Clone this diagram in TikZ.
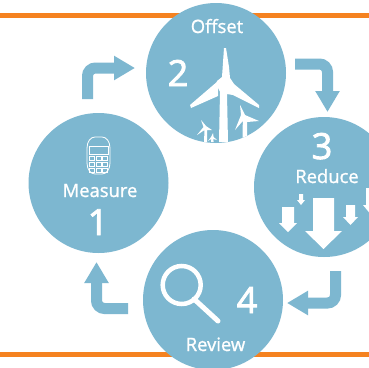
\documentclass[tikz,border=0pt]{standalone}
\usepackage{fontspec}
\setmainfont{Open Sans}
\newfontfamily\labelface{Open Sans}[FakeBold=1.2]
\newfontfamily\digitface{Open Sans}[FakeBold=2.4]
\usetikzlibrary{arrows.meta}
\definecolor{bluefill}{HTML}{7DB7D0}
\definecolor{orangeline}{HTML}{F58220}
\tikzset{
  stage/.style={circle,fill=bluefill,draw=none,minimum size=140pt,inner sep=0pt},
  stagelabel/.style={anchor=base,text=white,inner sep=0pt,font=\labelface\fontsize{18.4}{20}\selectfont},
  stagenum/.style={anchor=base,text=white,inner sep=0pt,font=\digitface\fontsize{36}{40}\selectfont},
  band/.style={draw=orangeline,line width=5pt},
  flow/.style={draw=bluefill,line width=11pt,rounded corners=8pt,-{Triangle[length=21pt,width=23pt]}},
  iconfill/.style={fill=white,draw=none},
  iconline/.style={draw=white,line width=0.8pt},
}
\begin{document}
\begin{tikzpicture}[x=1pt,y=-1pt]
\useasboundingbox (0,0) rectangle (369,367);
\clip (0,0) rectangle (369,367);
\fill[white] (0,0) rectangle (369,367);
\coordinate (tl) at (0,15); \coordinate (tr) at (369,15);
\coordinate (bl) at (0,354); \coordinate (br) at (369,354);
\draw[band] (tl) -- (tr);
\draw[band] (bl) -- (br);
% circles
\node[stage] (measure) at (98.5,183) {};
\node[stage] (offset) at (216,73) {};
\node[stage] (reduce) at (324,187) {};
\node[stage] (review) at (213,300) {};
% connectors
\coordinate (a1) at (87.5,99); \coordinate (a1c) at (87.5,68); \coordinate (a1e) at (135,68);
\coordinate (a2) at (295,64); \coordinate (a2c) at (327.5,64); \coordinate (a2e) at (327.5,112);
\coordinate (a3) at (335.5,271); \coordinate (a3c) at (335.5,303); \coordinate (a3e) at (287,303);
\coordinate (a4) at (128,308.5); \coordinate (a4c) at (96.5,308.5); \coordinate (a4e) at (96.5,262);
\draw[flow] (a1) -- (a1c) -- (a1e);
\draw[flow] (a2) -- (a2c) -- (a2e);
\draw[flow] (a3) -- (a3c) -- (a3e);
\draw[flow] (a4) -- (a4c) -- (a4e);
% labels
\node[stagelabel] (tmeasure) at (100,197) {Measure};
\node[stagenum] (nmeasure) at (98,235) {1};
\node[stagelabel] (toffset) at (217,33) {Offset};
\node[stagenum] (noffset) at (178,86) {2};
\node[stagelabel] (treduce) at (327,183) {Reduce};
\node[stagenum] (nreduce) at (322,159) {3};
\node[stagelabel] (treview) at (215.5,351) {Review};
\node[stagenum] (nreview) at (247,313) {4};
% calculator
\draw[iconline] (87,148) .. controls (87,141) and (91,137) .. (95,137) -- (102,137) .. controls (106,137) and (110,141) .. (110,148) -- (110,163) .. controls (110,170) and (106,174) .. (102,174) -- (95,174) .. controls (91,174) and (87,170) .. (87,163) -- cycle;
\draw[iconline] (89,146) rectangle (108,154);
\foreach \kx in {89.5,96,102.5}{
  \foreach \ky in {156,162,168}{
    \draw[iconline,line width=0.6pt] (\kx,\ky) rectangle ++(5,4);
  }
}
% wind turbines, cut by the circle
\begin{scope}
\clip (216,73) circle (70);
\fill[iconfill] (219,142) -- (220,92) -- (216,84) -- (217,81) -- (222,77) -- (224,48) -- (226,48) -- (229,67) -- (230,78) -- (234,84) -- (259,105) -- (259,108) -- (233,95) -- (227,94) -- (228,142) -- cycle;
\fill[iconfill] (190,105) -- (218,81) -- (218,96) -- (191,108) -- cycle;
\fill[iconfill] (242.5,142) -- (242.8,121) -- (235,130) -- (241,115) -- (240,105) -- (245,115) -- (259,121) -- (247,122) -- (247,142) -- cycle;
\fill[iconfill] (204,142) -- (204.5,130) -- (197,135) -- (203.5,127) -- (201,120) -- (206,126) -- (212,130) -- (207,130) -- (207,142) -- cycle;
\fill[iconfill] (211,142) -- (211.3,139) -- (208,141) -- (211,137) -- (213,133) -- (213.6,137) -- (217,140) -- (213.3,139) -- (213.6,142) -- cycle;
\end{scope}
% reduction arrows
\fill[iconfill] (313,198) -- (334,198) -- (334,231) -- (342,231) -- (323.5,249) -- (305,231) -- (313,231) -- cycle;
\fill[iconfill] (282,207) -- (294,207) -- (294,223) -- (297,223) -- (288,232) -- (279,223) -- (282,223) -- cycle;
\fill[iconfill] (299,194) -- (303,194) -- (303,200) -- (305,200) -- (301,205) -- (297,200) -- (299,200) -- cycle;
\fill[iconfill] (346,205) -- (355,205) -- (355,217) -- (358,217) -- (350.5,225) -- (343,217) -- (346,217) -- cycle;
\fill[iconfill] (366,188) -- (375,188) -- (375,205) -- (379,205) -- (372,216) -- (363,205) -- (366,205) -- cycle;
% magnifier
\draw[draw=white,line width=4.5pt] (181.7,285) circle (19);
\draw[draw=white,line width=5pt,line cap=round] (194,299) -- (218,321);
\end{tikzpicture}
\end{document}
